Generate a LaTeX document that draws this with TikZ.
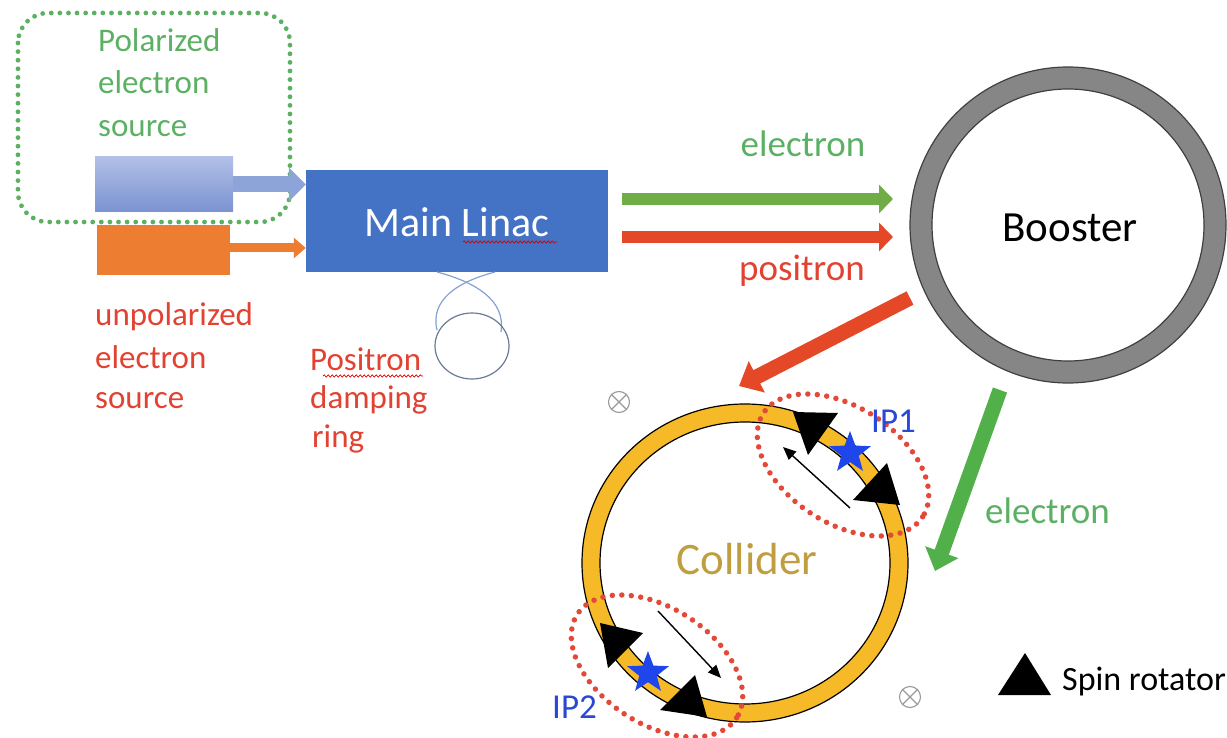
\documentclass[tikz,border=0pt]{standalone}
\usepackage{fontspec}
\setmainfont{Carlito}
\usetikzlibrary{arrows.meta,shapes.geometric,decorations.pathmorphing}

\definecolor{srcgreen}{RGB}{92,176,100}
\definecolor{beamgreen}{RGB}{112,173,71}
\definecolor{diaggreen}{RGB}{82,176,74}
\definecolor{beamred}{RGB}{228,72,38}
\definecolor{lblred}{RGB}{226,66,50}
\definecolor{dotred}{RGB}{228,72,56}
\definecolor{linacblue}{RGB}{68,114,196}
\definecolor{lavtop}{RGB}{178,192,232}
\definecolor{lavbot}{RGB}{122,146,208}
\definecolor{lavarrow}{RGB}{140,164,216}
\definecolor{srcorange}{RGB}{237,125,49}
\definecolor{ringgray}{RGB}{134,134,134}
\definecolor{ringyellow}{RGB}{246,186,40}
\definecolor{goldtext}{RGB}{190,158,62}
\definecolor{ipblue}{RGB}{42,72,212}
\definecolor{starblue}{RGB}{30,70,235}
\definecolor{dampblue}{RGB}{132,160,212}
\definecolor{dampgray}{RGB}{104,122,150}

\begin{document}
\begin{tikzpicture}[x=1pt,y=-1pt,
  txt/.style={inner sep=0pt, anchor=base west},
  small/.style={font=\fontsize{33}{40}\selectfont},
  mid/.style={font=\fontsize{37}{44}\selectfont},
  beam/.style={line width=12pt, -{Triangle[length=14pt,width=28pt]}},
  feed/.style={line width=15pt, -{Triangle[length=20pt,width=34pt]}},
  reddots/.style={dotred, line width=5.5pt, dash pattern=on 0pt off 9.5pt, line cap=round},
  rotator/.style={fill=black},
  ipstar/.style={star, star points=5, star point ratio=2.4, fill=starblue, inner sep=0pt, minimum size=44pt},
  otimes/.style={circle, draw=gray!80, line width=1.1pt, minimum size=21pt, inner sep=0pt},
  thinarrow/.style={line width=1.4pt, -{Triangle[length=13pt,width=11pt]}},
  squiggle/.style={red!85!black, line width=0.7pt, decorate, decoration={snake, amplitude=1.1pt, segment length=4pt}}]

\useasboundingbox (0,0) rectangle (1227,738);
\clip (0,0) rectangle (1227,738);

% ---------- electron sources ----------
\draw[srcgreen, line width=4.8pt, dash pattern=on 0pt off 8.6pt, line cap=round, rounded corners=30pt]
  (18,13) rectangle (290,222);
\node[small, txt, srcgreen] (pol1) at (98,52) {Polarized};
\node[small, txt, srcgreen] (pol2) at (98,94) {electron};
\node[small, txt, srcgreen] (pol3) at (98,137) {source};

\node[rectangle, top color=lavtop, bottom color=lavbot, minimum width=138pt, minimum height=55pt, inner sep=0pt]
  (polsrc) at (164,184.5) {};
\node[rectangle, fill=srcorange, minimum width=133pt, minimum height=50pt, inner sep=0pt]
  (unpolsrc) at (163.5,250) {};

\node[small, txt, lblred] (unp1) at (95,325) {unpolarized};
\node[small, txt, lblred] (unp2) at (95,368) {electron};
\node[small, txt, lblred] (unp3) at (95,408) {source};

% ---------- main linac ----------
\node[rectangle, fill=linacblue, minimum width=302pt, minimum height=102pt, inner sep=0pt]
  (linac) at (457,221) {};
\node[inner sep=0pt, anchor=base, white, font=\fontsize{42}{48}\selectfont] (linactext) at (457,237) {Main Linac};
\draw[squiggle] (463,242) -- (557,242);

\draw[lavarrow, line width=16pt, -{Triangle[length=17pt,width=33pt]}]
  (polsrc.east) -- (polsrc.east -| linac.west);
\draw[srcorange, line width=9pt, -{Triangle[length=12pt,width=20pt]}]
  (230,248) coordinate (unpolout) -- (unpolout -| linac.west);

% ---------- positron damping ring ----------
\draw[dampblue, line width=1.2pt] (437,272) .. controls (475,282) and (506,300) .. (501,332);
\draw[dampblue, line width=1.2pt] (495,272) .. controls (457,282) and (430,300) .. (437,330);
\node[ellipse, draw=dampgray, line width=1.2pt, minimum width=74pt, minimum height=66pt, inner sep=0pt]
  (dring) at (472,346) {};
\node[small, txt, lblred] (dr1) at (310,370) {Positron};
\node[small, txt, lblred] (dr2) at (310,408) {damping};
\node[small, txt, lblred] (dr3) at (312,447) {ring};
\draw[squiggle] (323,376) -- (423,376);

% ---------- booster ----------
\coordinate (bc) at (1068,225);
\fill[ringgray, even odd rule] (bc) circle[radius=158] (bc) circle[radius=136];
\draw[black!75, line width=1.2pt] (bc) circle[radius=158];
\draw[black!75, line width=1.2pt] (bc) circle[radius=136];
\node[inner sep=0pt, anchor=base, font=\fontsize{43}{50}\selectfont] (booster) at (1070,242) {Booster};

\coordinate (eS) at (622,199);
\coordinate (eT) at (893,199);
\coordinate (pS) at (622,237);
\coordinate (pT) at (893,237);
\draw[beam, beamgreen] (eS) -- (eT);
\draw[beam, beamred] (pS) -- (pT);
\node[mid, txt, anchor=base, srcgreen] (lblel) at (803,157) {electron};
\node[mid, txt, anchor=base, lblred] (lblpo) at (802,280) {positron};

% ---------- collider ----------
\coordinate (cc) at (745,563);
\fill[ringyellow, even odd rule] (cc) ellipse[x radius=163, y radius=159] (cc) ellipse[x radius=145, y radius=141];
\draw[black, line width=1.2pt] (cc) ellipse[x radius=163, y radius=159];
\draw[black, line width=1.2pt] (cc) ellipse[x radius=145, y radius=141];
\node[inner sep=0pt, anchor=base, goldtext, font=\fontsize{45}{52}\selectfont] (collider) at (747,574) {Collider};

% transfer lines from booster to collider
\coordinate (rS) at (910,298);
\coordinate (rT) at (739,386);
\coordinate (gS) at (1000,390);
\coordinate (gT) at (935,571);
\draw[feed, beamred] (rS) -- (rT);
\draw[feed, diaggreen] (gS) -- (gT);
\node[mid, txt, srcgreen] (lblel2) at (985,523) {electron};

% interaction region IP1
\fill[rotator] (793,412) -- (838,413) -- (808,455) -- cycle;
\fill[rotator] (887,463) -- (900,505) -- (853,500) -- cycle;
\node[ipstar] (star1) at (850,453) {};
\coordinate (a1s) at (850,508);
\coordinate (a1e) at (783,447);
\draw[thinarrow] (a1s) -- (a1e);
\draw[reddots, rotate around={-33:(843,465)}] (843,465) ellipse[x radius=95, y radius=58];
\node[txt, ipblue, font=\fontsize{35}{40}\selectfont] (ip1) at (871,432) {IP1};

% interaction region IP2
\fill[rotator] (600,623) -- (643,633) -- (608,668) -- cycle;
\fill[rotator] (695,675) -- (707,717) -- (660,710) -- cycle;
\node[ipstar] (star2) at (648,673) {};
\coordinate (a2s) at (658,611);
\coordinate (a2e) at (721,678);
\draw[thinarrow] (a2s) -- (a2e);
\draw[reddots, rotate around={-33:(657,666)}] (657,666) ellipse[x radius=95, y radius=58];
\node[txt, ipblue, font=\fontsize{35}{40}\selectfont] (ip2) at (552,718) {IP2};

% ---------- field direction marks ----------
\node[otimes] (ot1) at (619,402) {};
\draw[gray!80, line width=1.1pt] (ot1.45) -- (ot1.225) (ot1.135) -- (ot1.315);
\node[otimes] (ot2) at (910,697) {};
\draw[gray!80, line width=1.1pt] (ot2.45) -- (ot2.225) (ot2.135) -- (ot2.315);

% ---------- legend ----------
\fill[rotator] (998,695) -- (1051,695) -- (1025,653) -- cycle;
\node[txt, font=\fontsize{34}{40}\selectfont] (legend) at (1062,690) {Spin rotator};

\end{tikzpicture}
\end{document}
